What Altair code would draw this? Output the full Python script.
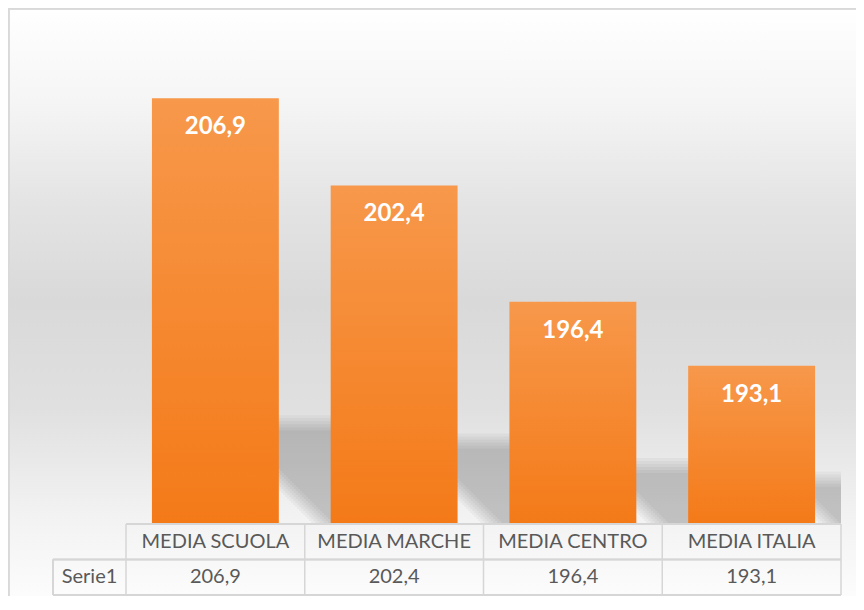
import altair as alt
import pandas as pd

# ---- data ----
categories = ["MEDIA SCUOLA", "MEDIA MARCHE", "MEDIA CENTRO", "MEDIA ITALIA"]
values = [206.9, 202.4, 196.4, 193.1]
value_labels = ["206,9", "202,4", "196,4", "193,1"]
series_name = "Serie1"
y_domain = [185, 210]

# ---- layout constants (pixels) ----
W_PLOT, H_PLOT = 715, 485
PAD = {"left": 118, "top": 30, "right": 15, "bottom": 73}
N = len(categories)
PX_X = W_PLOT / N
PX_Y = H_PLOT / (y_domain[1] - y_domain[0])
GAP = 0.145  # half of the gap between bars, as share of a category slot

bars = pd.DataFrame({"cat": categories, "value": values, "label": value_labels, "i": range(N)})
bars["x0"] = bars["i"] + GAP
bars["x1"] = bars["i"] + 1 - GAP
bars["xc"] = bars["i"] + 0.5
bars["base"] = y_domain[0]

# soft perspective shadows derived from the bar heights, built from thin slices
rows = []
blur = [-7.5, -4.5, -1.5, 1.5, 4.5, 7.5]
STEP = 2
for i, v in enumerate(values):
    Hpx = (v - y_domain[0]) * PX_Y
    h = 0.21 * Hpx + 11
    w = max(0.11 * Hpx - 3, 8)
    right_px = (i + 1 - GAP) * PX_X
    bw = (1 - 2 * GAP) * PX_X
    for j, k in enumerate(blur):
        he = h + k
        xb = right_px + w - 1.4 * k
        t = 0
        while t < he:
            t2 = min(t + STEP, he)
            xl = xb - (t + t2) / 2
            xr = min(xl + bw + 2 * k, W_PLOT)
            rows.append({
                "sx": max(xl, 0) / PX_X, "sx2": xr / PX_X,
                "sy": y_domain[0] + t / PX_Y, "sy2": y_domain[0] + t2 / PX_Y,
            })
            t = t2
shadow = pd.DataFrame(rows)

bounds = pd.DataFrame({"b": list(range(N + 1))})

xs = alt.Scale(domain=[0, N], nice=False, zero=False)
ys = alt.Scale(domain=y_domain, nice=False, zero=False)

bg_grad = alt.Gradient(
    gradient="linear", x1=0, x2=0, y1=0, y2=1,
    stops=[
        alt.GradientStop(color="#ffffff", offset=0),
        alt.GradientStop(color="#f5f5f5", offset=0.16),
        alt.GradientStop(color="#e4e4e4", offset=0.33),
        alt.GradientStop(color="#d9d9d9", offset=0.5),
        alt.GradientStop(color="#e0e0e0", offset=0.68),
        alt.GradientStop(color="#f2f2f2", offset=0.86),
        alt.GradientStop(color="#fcfcfc", offset=1),
    ],
)
bar_grad = alt.Gradient(
    gradient="linear", x1=0, x2=0, y1=0, y2=1,
    stops=[
        alt.GradientStop(color="#F7984B", offset=0),
        alt.GradientStop(color="#F47A18", offset=1),
    ],
)

base = alt.Chart(bars)

background = base.mark_rect(color=bg_grad).encode(
    x=alt.value(-PAD["left"]), x2=alt.value(W_PLOT + PAD["right"]),
    y=alt.value(-PAD["top"]), y2=alt.value(H_PLOT + PAD["bottom"]),
)

shadows = alt.Chart(shadow).mark_rect(color="#000000", opacity=0.035).encode(
    x=alt.X("sx:Q", scale=xs, axis=None),
    x2="sx2:Q",
    y=alt.Y("sy:Q", scale=ys, axis=None),
    y2="sy2:Q",
)

bar_marks = base.mark_rect(color=bar_grad).encode(
    x=alt.X("x0:Q", scale=xs, axis=None),
    x2="x1:Q",
    y=alt.Y("value:Q", scale=ys, axis=None),
    y2="base:Q",
)

bar_text = base.mark_text(
    color="white", fontWeight="bold", fontSize=24, font="Lato", baseline="middle", dy=29
).encode(x=alt.X("xc:Q", scale=xs), y=alt.Y("value:Q", scale=ys), text="label:N")

LINE = "#d6d6d6"
ROW0, ROW1, ROW2 = 486, 521.5, 557
LEFT_CELL = -73

col_lines = alt.Chart(bounds).mark_rule(color=LINE, strokeWidth=1.5).encode(
    x=alt.X("b:Q", scale=xs), y=alt.value(ROW0), y2=alt.value(ROW2)
)
h1 = base.mark_rule(color=LINE, strokeWidth=1.5).encode(
    x=alt.value(0), x2=alt.value(W_PLOT), y=alt.value(ROW0)
)
h2 = base.mark_rule(color=LINE, strokeWidth=1.5).encode(
    x=alt.value(LEFT_CELL), x2=alt.value(W_PLOT), y=alt.value(ROW1)
)
h3 = base.mark_rule(color=LINE, strokeWidth=1.5).encode(
    x=alt.value(LEFT_CELL), x2=alt.value(W_PLOT), y=alt.value(ROW2)
)
v_left = base.mark_rule(color=LINE, strokeWidth=1.5).encode(
    x=alt.value(LEFT_CELL), y=alt.value(ROW1), y2=alt.value(ROW2)
)

head_text = base.mark_text(color="#595959", fontSize=20, font="Lato", baseline="middle").encode(
    x=alt.X("xc:Q", scale=xs), y=alt.value((ROW0 + ROW1) / 2), text="cat:N"
)
val_text = base.mark_text(color="#595959", fontSize=20, font="Lato", baseline="middle").encode(
    x=alt.X("xc:Q", scale=xs), y=alt.value((ROW1 + ROW2) / 2), text="label:N"
)
serie_text = alt.Chart(pd.DataFrame({"s": [series_name]})).mark_text(
    color="#595959", fontSize=20, font="Lato", baseline="middle"
).encode(x=alt.value((LEFT_CELL + 0) / 2), y=alt.value((ROW1 + ROW2) / 2), text="s:N")

frame_top = base.mark_rule(color="#d9d9d9", strokeWidth=2).encode(
    x=alt.value(-PAD["left"]), x2=alt.value(W_PLOT + PAD["right"]), y=alt.value(-PAD["top"] + 0.5)
)
frame_left = base.mark_rule(color="#d9d9d9", strokeWidth=2).encode(
    x=alt.value(-PAD["left"] + 0.5), y=alt.value(-PAD["top"]), y2=alt.value(H_PLOT + PAD["bottom"])
)

chart = alt.layer(
    background, shadows, bar_marks, bar_text,
    col_lines, h1, h2, h3, v_left, head_text, val_text, serie_text,
    frame_top, frame_left,
).properties(
    width=W_PLOT, height=H_PLOT,
    autosize=alt.AutoSizeParams(type="none"),
    padding=PAD,
).configure_view(stroke=None)

chart.save("out.html", embed_options={"renderer": "svg", "actions": False})
